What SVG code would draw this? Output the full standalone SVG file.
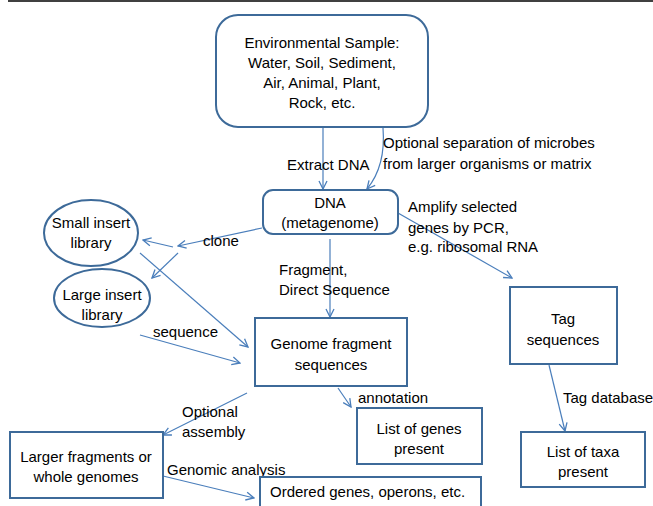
<svg xmlns="http://www.w3.org/2000/svg" width="653" height="506" viewBox="0 0 653 506">
<style>
text{font-family:"Liberation Sans",Arial,sans-serif;font-size:15px;fill:#000}
.c{text-anchor:middle}
.box{fill:#fff;stroke:#3D6A99;stroke-width:2}
.ln{fill:none;stroke:#4A7EBB;stroke-width:1.2;marker-end:url(#a)}
</style>
<defs>
<marker id="a" viewBox="0 0 10 10" refX="9" refY="5" markerWidth="10" markerHeight="10" orient="auto" markerUnits="userSpaceOnUse">
<path d="M1,1 L9,5 L1,9" fill="none" stroke="#4A7EBB" stroke-width="1.3"/>
</marker>
</defs>
<rect width="653" height="506" fill="#fff"/>
<line x1="8" y1="1" x2="653" y2="1" stroke="#404040" stroke-width="2"/>
<g id="connectors">
<line class="ln" x1="323" y1="128" x2="323" y2="189"/>
<path class="ln" d="M383,128 Q386,166 367,189"/>
<line class="ln" x1="262" y1="228" x2="178" y2="246"/>
<line class="ln" x1="173" y1="247" x2="143" y2="240"/>
<line class="ln" x1="178" y1="253" x2="152" y2="278"/>
<line class="ln" x1="140" y1="253" x2="248" y2="347"/>
<line class="ln" x1="140" y1="335" x2="240" y2="363"/>
<line class="ln" x1="330" y1="239" x2="330" y2="317"/>
<line class="ln" x1="398" y1="213" x2="512" y2="278"/>
<line class="ln" x1="549" y1="365" x2="565" y2="431"/>
<line class="ln" x1="338" y1="388" x2="351" y2="407"/>
<line class="ln" x1="247" y1="393" x2="163" y2="435"/>
<line class="ln" x1="163" y1="476" x2="254" y2="498"/>
<text x="287" y="170">Extract DNA</text>
<text x="383" y="148">Optional separation of microbes</text>
<text x="383" y="169">from larger organisms or matrix</text>
<text x="203" y="246">clone</text>
<text x="153" y="337">sequence</text>
<text x="279" y="275">Fragment,</text>
<text x="279" y="295">Direct Sequence</text>
<text x="408" y="212">Amplify selected</text>
<text x="408" y="233">genes by PCR,</text>
<text x="408" y="252">e.g. ribosomal RNA</text>
<text x="563" y="403">Tag database</text>
<text x="358" y="403">annotation</text>
<text x="182" y="417">Optional</text>
<text x="182" y="437">assembly</text>
<text x="167" y="475">Genomic analysis</text>
</g>
<g id="env">
<rect class="box" x="216" y="15" width="212" height="112" rx="22"/>
<text class="c" x="322" y="48">Environmental Sample:</text>
<text class="c" x="322" y="68">Water, Soil, Sediment,</text>
<text class="c" x="322" y="88">Air, Animal, Plant,</text>
<text class="c" x="322" y="108">Rock, etc.</text>
</g>
<g id="dna">
<rect class="box" x="263" y="190" width="135" height="44" rx="10"/>
<text class="c" x="330" y="208">DNA</text>
<text class="c" x="330" y="228">(metagenome)</text>
</g>
<g id="small">
<ellipse class="box" cx="91" cy="233" rx="47" ry="33"/>
<text class="c" x="91" y="228">Small insert</text>
<text class="c" x="91" y="248">library</text>
</g>
<g id="large">
<ellipse class="box" cx="102" cy="298" rx="48" ry="29"/>
<text class="c" x="102" y="300">Large insert</text>
<text class="c" x="102" y="320">library</text>
</g>
<g id="genome">
<rect class="box" x="255" y="318" width="152" height="68"/>
<text class="c" x="331" y="349">Genome fragment</text>
<text class="c" x="331" y="370">sequences</text>
</g>
<g id="tag">
<rect class="box" x="510" y="287" width="107" height="77"/>
<text class="c" x="563" y="324">Tag</text>
<text class="c" x="563" y="345">sequences</text>
</g>
<g id="taxa">
<rect class="box" x="521" y="432" width="124" height="55"/>
<text class="c" x="583" y="457">List of taxa</text>
<text class="c" x="583" y="477">present</text>
</g>
<g id="genes">
<rect class="box" x="357" y="408" width="125" height="56"/>
<text class="c" x="419" y="434">List of genes</text>
<text class="c" x="419" y="454">present</text>
</g>
<g id="larger">
<rect class="box" x="10" y="432" width="153" height="66"/>
<text class="c" x="86" y="462">Larger fragments or</text>
<text class="c" x="86" y="482">whole genomes</text>
</g>
<g id="ordered">
<rect class="box" x="260" y="477" width="221" height="40"/>
<text x="270" y="497">Ordered genes, operons, etc.</text>
</g>
</svg>
